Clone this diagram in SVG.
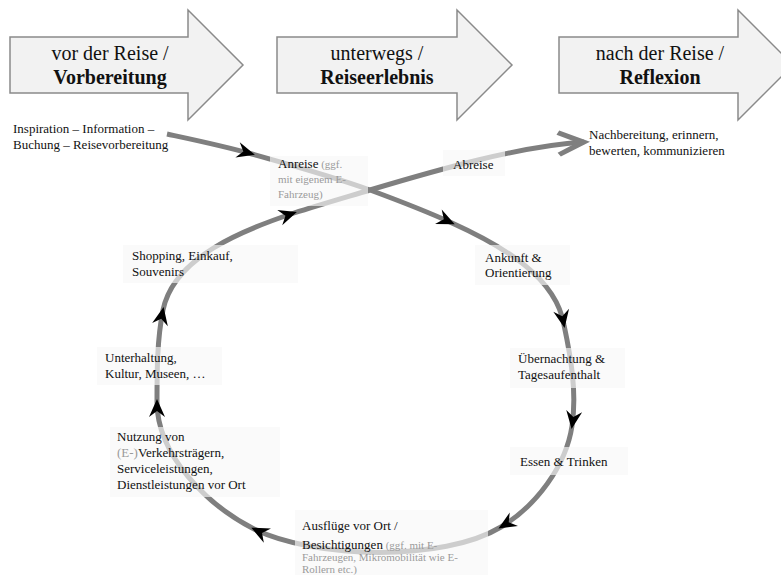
<svg xmlns="http://www.w3.org/2000/svg" width="781" height="575" viewBox="0 0 781 575">
<defs>
<style>
text{font-family:"Liberation Serif","Times New Roman",Times,serif;font-size:13px;fill:#111}
.h{font-size:20px}
.hb{font-size:20px;font-weight:bold}
.g{fill:#9a9a9a;font-size:11px}
.gs{fill:#9a9a9a}
.phase{fill:#f2f2f2;stroke:#8a8a8a;stroke-width:1.5}
.box{fill:#f8f8f8;fill-opacity:0.65}
.flow{fill:none;stroke:#7f7f7f;stroke-width:5}
</style>
<marker id="ah" markerUnits="userSpaceOnUse" markerWidth="24" markerHeight="20" viewBox="-20 -10 24 20" refX="0" refY="0" orient="auto">
<path d="M3,0 L-15,-8 L-9,0 L-15,8 Z" fill="#000"/>
</marker>
<marker id="end" markerUnits="userSpaceOnUse" markerWidth="40" markerHeight="34" viewBox="-34 -17 40 34" refX="0" refY="0" orient="auto">
<path d="M6,0 L-24,-13 L-27,-9 L-7,0 L-27,9 L-24,13 Z" fill="#7f7f7f"/>
</marker>
</defs>
<rect width="781" height="575" fill="#fff"/>

<g id="phase-vor">
<path class="phase" d="M10,37 H188 V10 L243,65 L188,120 V93 H10 Z"/>
<text class="h" x="110" y="60" text-anchor="middle">vor der Reise /</text>
<text class="hb" x="110" y="84" text-anchor="middle">Vorbereitung</text>
</g>
<g id="phase-unterwegs">
<path class="phase" d="M277,37 H457 V10 L512,65 L457,120 V93 H277 Z"/>
<text class="h" x="377" y="60" text-anchor="middle">unterwegs /</text>
<text class="hb" x="377" y="84" text-anchor="middle">Reiseerlebnis</text>
</g>
<g id="phase-nach">
<path class="phase" d="M559,37 H738 V10 L793,65 L738,120 V93 H559 Z"/>
<text class="h" x="660" y="60" text-anchor="middle">nach der Reise /</text>
<text class="hb" x="660" y="84" text-anchor="middle">Reflexion</text>
</g>

<g id="connectors">
<path class="flow" marker-mid="url(#ah)" d="M167,134 C195,140 224,146 252,154 C291,165 331,176 370,190"/>
<path class="flow" marker-mid="url(#ah)" d="M370,190 C397,200 426,211 452,223 C505,247 556,278 564,325 C571,358 577,392 572,426 C566,466 536,506 501,527 C443,562 315,559 254,529 C207,505 157,455 157,402 C157,371 157,340 163,310 C174,257 243,230 294,213 C319,205 345,197.5 370,190"/>
<path class="flow" marker-end="url(#end)" d="M370,190 C437,170 520,146 584,142"/>
</g>

<g id="inspiration">
<text x="13" y="133">Inspiration – Information –</text>
<text x="13" y="149">Buchung – Reisevorbereitung</text>
</g>
<g id="anreise">
<rect class="box" x="270" y="156" width="98" height="50"/>
<text x="278" y="168">Anreise<tspan class="g"> (ggf.</tspan></text>
<text class="g" x="278" y="183">mit eigenem E-</text>
<text class="g" x="278" y="198">Fahrzeug)</text>
</g>
<g id="abreise">
<rect class="box" x="443" y="150" width="62" height="26"/>
<text x="453" y="169">Abreise</text>
</g>
<g id="nachbereitung">
<text x="589" y="139">Nachbereitung, erinnern,</text>
<text x="589" y="155">bewerten, kommunizieren</text>
</g>
<g id="ankunft">
<rect class="box" x="475" y="245" width="95" height="40"/>
<text x="485" y="262">Ankunft &amp;</text>
<text x="485" y="277">Orientierung</text>
</g>
<g id="uebernachtung">
<rect class="box" x="510" y="348" width="115" height="40"/>
<text x="518" y="363">Übernachtung &amp;</text>
<text x="518" y="379">Tagesaufenthalt</text>
</g>
<g id="essen">
<rect class="box" x="510" y="447" width="118" height="28"/>
<text x="520" y="466">Essen &amp; Trinken</text>
</g>
<g id="ausfluege">
<rect class="box" x="295" y="510" width="193" height="65"/>
<text x="302" y="530">Ausflüge vor Ort /</text>
<text x="302" y="549">Besichtigungen<tspan class="g"> (ggf. mit E-</tspan></text>
<text class="g" x="302" y="561">Fahrzeugen, Mikromobilität wie E-</text>
<text class="g" x="302" y="573">Rollern etc.)</text>
</g>
<g id="nutzung">
<rect class="box" x="110" y="427" width="170" height="70"/>
<text x="117" y="441">Nutzung von</text>
<text x="117" y="457"><tspan class="gs">(E-)</tspan>Verkehrsträgern,</text>
<text x="117" y="473">Serviceleistungen,</text>
<text x="117" y="489">Dienstleistungen vor Ort</text>
</g>
<g id="unterhaltung">
<rect class="box" x="97" y="347" width="125" height="38"/>
<text x="105" y="362">Unterhaltung,</text>
<text x="105" y="378">Kultur, Museen, …</text>
</g>
<g id="shopping">
<rect class="box" x="123" y="245" width="175" height="38"/>
<text x="132" y="260">Shopping, Einkauf,</text>
<text x="132" y="276">Souvenirs</text>
</g>
</svg>
